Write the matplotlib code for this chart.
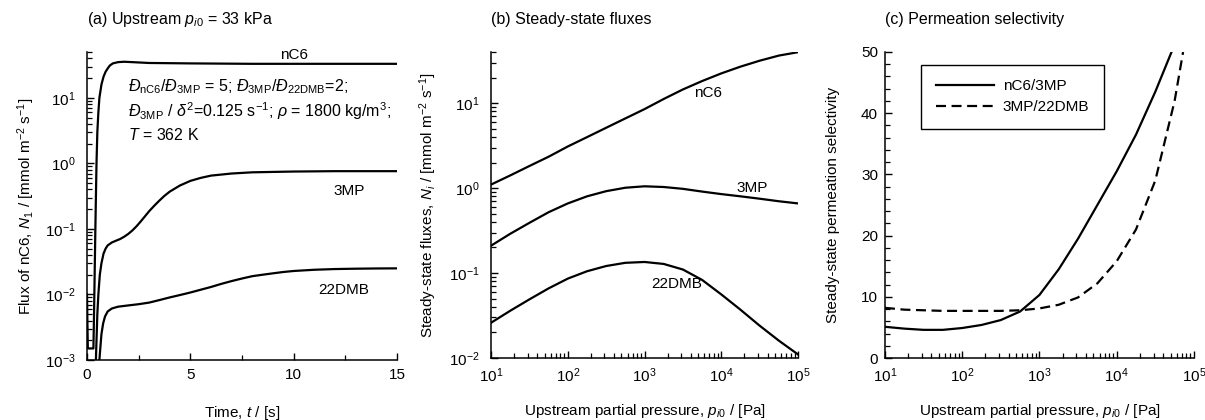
import numpy as np
import matplotlib
matplotlib.use("Agg")
import matplotlib.pyplot as plt
from matplotlib.ticker import LogLocator, NullFormatter, MultipleLocator

plt.rcParams["font.family"] = ["Liberation Sans", "DejaVu Sans"]
plt.rcParams["mathtext.fontset"] = "custom"
plt.rcParams["mathtext.rm"] = "Liberation Sans"
plt.rcParams["mathtext.it"] = "Liberation Sans:italic"
plt.rcParams["mathtext.bf"] = "Liberation Sans:bold"
plt.rcParams["font.size"] = 11

# (a) transient fluxes, upstream p_i0 = 33 kPa
t_nC6 = [0.0, 0.04, 0.31, 0.34, 0.37, 0.40, 0.43, 0.46, 0.50, 0.55, 0.60, 0.70, 0.80,
         0.90, 1.0, 1.1, 1.25, 1.5, 1.8, 2.2, 3.0, 5.0, 8.0, 12.0, 15.0]
N_nC6 = [1.0e-2, 1.5e-3, 1.5e-3, 5e-3, 2e-2, 8e-2, 0.3, 1.0, 3.0, 6.0, 10, 16, 21,
         25, 28, 31, 33.5, 35, 35.5, 35, 34, 33.5, 33, 33, 33]

t_3MP = [0.43, 0.46, 0.50, 0.55, 0.62, 0.70, 0.80, 0.90, 1.0, 1.2, 1.4, 1.6, 1.8, 2.0,
         2.2, 2.4, 2.6, 2.8, 3.0, 3.25, 3.5, 3.75, 4.0, 4.5, 5.0, 5.5, 6.0, 7.0, 8.0,
         10.0, 12.0, 15.0]
N_3MP = [1e-3, 2e-3, 5e-3, 1e-2, 2e-2, 3e-2, 4.2e-2, 5e-2, 5.6e-2, 6.2e-2, 6.6e-2, 7e-2,
         7.6e-2, 8.4e-2, 9.5e-2, 0.11, 0.13, 0.155, 0.185, 0.225, 0.27, 0.32, 0.37,
         0.46, 0.54, 0.60, 0.65, 0.70, 0.73, 0.75, 0.76, 0.76]

t_22DMB = [0.6, 0.65, 0.7, 0.78, 0.87, 1.0, 1.2, 1.5, 2.0, 2.5, 3.0, 3.5, 4.0, 4.5, 5.0,
           5.5, 6.0, 6.5, 7.0, 7.5, 8.0, 8.5, 9.0, 9.5, 10.0, 11.0, 12.0, 13.0, 14.0, 15.0]
N_22DMB = [1e-3, 1.6e-3, 2.5e-3, 3.6e-3, 4.6e-3, 5.5e-3, 6.1e-3, 6.5e-3, 6.8e-3, 7.1e-3,
           7.5e-3, 8.2e-3, 9.0e-3, 9.8e-3, 1.07e-2, 1.18e-2, 1.3e-2, 1.45e-2, 1.6e-2,
           1.75e-2, 1.9e-2, 2.0e-2, 2.1e-2, 2.2e-2, 2.28e-2, 2.38e-2, 2.44e-2, 2.47e-2,
           2.49e-2, 2.5e-2]

# (b) steady-state fluxes vs upstream partial pressure
p_ss = [10, 17.8, 31.6, 56.2, 100, 178, 316, 562, 1000, 1778, 3162, 5623, 10000,
        17783, 31623, 56234, 100000]
ss_nC6 = [1.10, 1.41, 1.82, 2.34, 3.09, 3.98, 5.13, 6.61, 8.51, 11.2, 14.5, 18.2, 22.4,
          26.9, 31.6, 36.3, 39.8]
ss_3MP = [0.21, 0.29, 0.39, 0.52, 0.66, 0.80, 0.92, 1.01, 1.05, 1.03, 0.98, 0.91, 0.85,
          0.80, 0.75, 0.70, 0.66]
ss_22DMB = [0.026, 0.036, 0.049, 0.066, 0.086, 0.105, 0.121, 0.132, 0.135, 0.128, 0.11,
            0.083, 0.056, 0.037, 0.024, 0.016, 0.011]

# (c) permeation selectivity
p_sel1 = [10, 17.8, 31.6, 56.2, 100, 178, 316, 562, 1000, 1778, 3162, 5623, 10000,
          17783, 31623, 51300]
sel_nC6_3MP = [5.1, 4.8, 4.6, 4.6, 4.9, 5.4, 6.2, 7.6, 10.3, 14.5, 19.5, 25, 30.5,
               36.5, 43.5, 50]
p_sel2 = [10, 17.8, 31.6, 56.2, 100, 178, 316, 562, 1000, 1778, 3162, 5623, 10000,
          17783, 31623, 56234, 72400]
sel_3MP_22DMB = [8.2, 7.9, 7.8, 7.7, 7.7, 7.7, 7.7, 7.8, 8.1, 8.7, 9.9, 12.2, 15.8,
                 21, 29, 42, 50]

fig = plt.figure(figsize=(12.05, 4.2), dpi=100)
ax1 = fig.add_axes([0.0722, 0.1429, 0.2573, 0.7333])
ax2 = fig.add_axes([0.4075, 0.1476, 0.2548, 0.7286])
ax3 = fig.add_axes([0.7344, 0.1476, 0.2564, 0.7286])

lw = 1.6


def style(ax):
    for s in ["top", "right"]:
        ax.spines[s].set_visible(False)
    for s in ["left", "bottom"]:
        ax.spines[s].set_linewidth(1.1)
    ax.tick_params(which="major", direction="in", length=5, width=1, labelsize=11)
    ax.tick_params(which="minor", direction="in", length=3.5, width=0.9)
    ax.tick_params(axis="x", pad=6)


# panel a
ax1.plot(t_nC6, N_nC6, color="black", lw=lw)
ax1.plot(t_3MP, N_3MP, color="black", lw=lw)
ax1.plot(t_22DMB, N_22DMB, color="black", lw=lw)
ax1.set_yscale("log")
ax1.set_xlim(0, 15)
ax1.set_ylim(1e-3, 50)
ax1.xaxis.set_major_locator(MultipleLocator(5))
ax1.xaxis.set_minor_locator(MultipleLocator(2.5))
ax1.yaxis.set_minor_locator(LogLocator(subs=np.arange(2, 10)))
ax1.yaxis.set_minor_formatter(NullFormatter())
style(ax1)
ax1.tick_params(axis="y", pad=8)
ax1.set_xlabel("Time, $t$ / [s]")
ax1.set_ylabel("Flux of nC6, $N_1$ / [mmol m$^{-2}$ s$^{-1}$]")
ax1.text(10, 35.5, "nC6", ha="center", va="bottom")
ax1.text(12.7, 0.38, "3MP", ha="center", va="center")
ax1.text(12.4, 0.0117, "22DMB", ha="center", va="center")
ax1.text(0, 1.107, "(a) Upstream $p_{i0}$ = 33 kPa", transform=ax1.transAxes,
         ha="left", va="center", fontsize=11.5)
fig.text(128 / 1205, 1 - 87 / 420,
         r"$\mathit{Đ}_{\mathrm{nC6}}/\mathit{Đ}_{\mathrm{3MP}}$ = 5; "
         r"$\mathit{Đ}_{\mathrm{3MP}}/\mathit{Đ}_{\mathrm{22DMB}}$=2;",
         ha="left", va="center", fontsize=11.5)
fig.text(128 / 1205, 1 - 111 / 420,
         r"$\mathit{Đ}_{\mathrm{3MP}}$ / $\delta^{2}$=0.125 s$^{-1}$; $\rho$ = 1800 kg/m$^{3}$;",
         ha="left", va="center", fontsize=11.5)
fig.text(128 / 1205, 1 - 135 / 420, "$T$ = 362 K", ha="left", va="center", fontsize=11.5)

# panel b
ax2.plot(p_ss, ss_nC6, color="black", lw=lw)
ax2.plot(p_ss, ss_3MP, color="black", lw=lw)
ax2.plot(p_ss, ss_22DMB, color="black", lw=lw)
ax2.set_xscale("log")
ax2.set_yscale("log")
ax2.set_xlim(10, 1e5)
ax2.set_ylim(1e-2, 40)
for axis in [ax2.xaxis, ax2.yaxis]:
    axis.set_major_locator(LogLocator(base=10))
    axis.set_minor_locator(LogLocator(base=10, subs=np.arange(2, 10), numticks=20))
    axis.set_minor_formatter(NullFormatter())
style(ax2)
ax2.tick_params(axis="y", pad=8)
ax2.set_xlabel("Upstream partial pressure, $p_{i0}$ / [Pa]")
ax2.set_ylabel("Steady-state fluxes, $N_i$ / [mmol m$^{-2}$ s$^{-1}$]")
ax2.text(6800, 13, "nC6", ha="center", va="center")
ax2.text(25000, 1.0, "3MP", ha="center", va="center")
ax2.text(2600, 0.075, "22DMB", ha="center", va="center")
ax2.text(0, 1.107, "(b) Steady-state fluxes", transform=ax2.transAxes,
         ha="left", va="center", fontsize=11.5)

# panel c
ax3.plot(p_sel1, sel_nC6_3MP, color="black", lw=lw, label="nC6/3MP")
ax3.plot(p_sel2, sel_3MP_22DMB, color="black", lw=lw, ls=(0, (4.5, 2.5)),
         label="3MP/22DMB")
ax3.set_xscale("log")
ax3.set_xlim(10, 1e5)
ax3.set_ylim(0, 50)
ax3.xaxis.set_major_locator(LogLocator(base=10))
ax3.xaxis.set_minor_locator(LogLocator(base=10, subs=np.arange(2, 10), numticks=20))
ax3.xaxis.set_minor_formatter(NullFormatter())
ax3.yaxis.set_major_locator(MultipleLocator(10))
ax3.yaxis.set_minor_locator(MultipleLocator(2))
style(ax3)
ax3.tick_params(axis="y", pad=5)
ax3.set_xlabel("Upstream partial pressure, $p_{i0}$ / [Pa]")
ax3.set_ylabel("Steady-state permeation selectivity")
ax3.text(0, 1.107, "(c) Permeation selectivity", transform=ax3.transAxes,
         ha="left", va="center", fontsize=11.5)
leg = ax3.legend(loc="upper left", bbox_to_anchor=(0.117, 0.958), borderaxespad=0,
                 fancybox=False, edgecolor="black", framealpha=1, fontsize=11,
                 handlelength=3.8, handletextpad=0.6, borderpad=0.95, labelspacing=0.45)
leg.get_frame().set_linewidth(1.0)

for ax in [ax1, ax2, ax3]:
    ax.xaxis.set_label_coords(0.5, -0.143)
    ax.xaxis.label.set_va("top")
ax1.yaxis.set_label_coords(-0.16, 0.5)
ax2.yaxis.set_label_coords(-0.17, 0.5)
ax3.yaxis.set_label_coords(-0.145, 0.5)

fig.savefig("out.png", dpi=100)
